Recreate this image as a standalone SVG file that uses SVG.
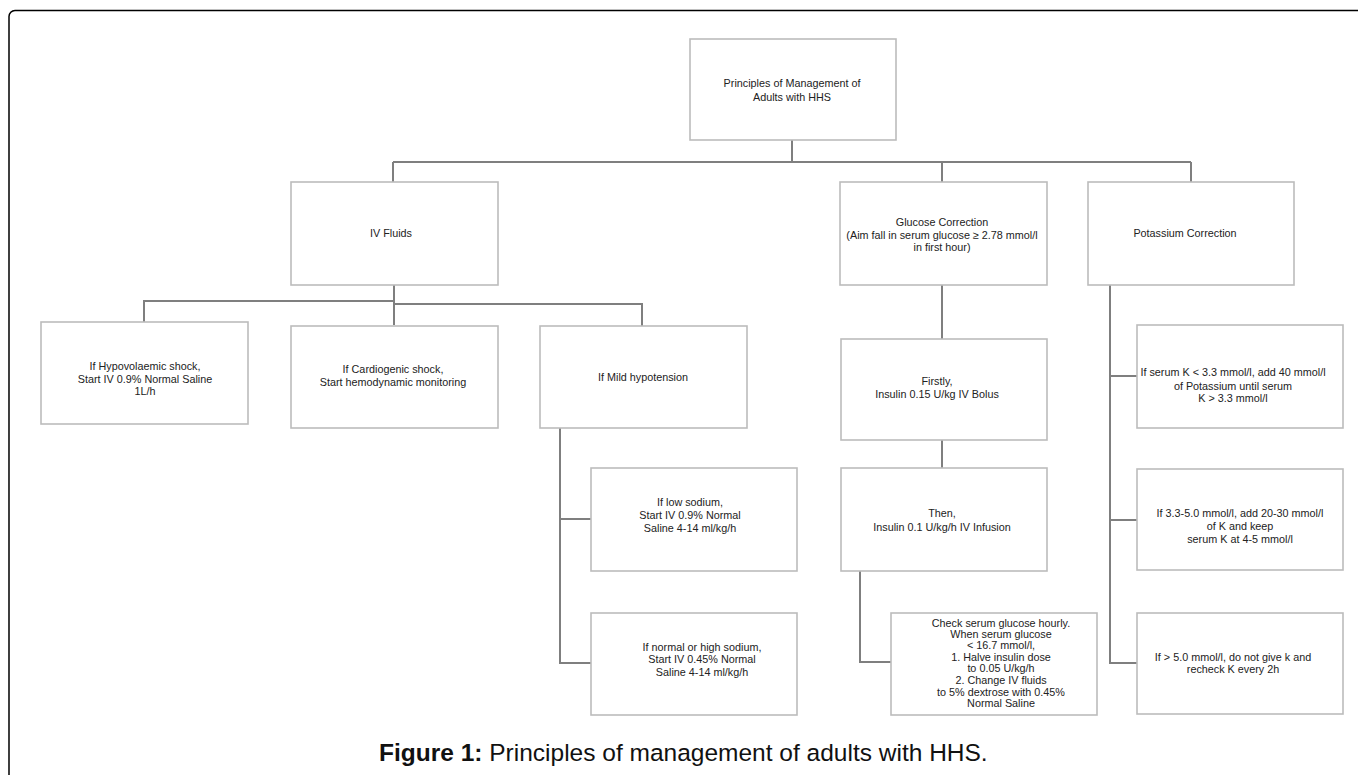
<svg xmlns="http://www.w3.org/2000/svg" width="1358" height="775" viewBox="0 0 1358 775">
<style>
  .box { fill: #ffffff; stroke: #bcbcbc; stroke-width: 1.6; }
  .t { font-family: "Liberation Sans", Arial, sans-serif; font-size: 10.8px; fill: #222222; text-anchor: middle; }
  .conn { fill: none; stroke: #7f7f7f; stroke-width: 2; }
  .cap { font-family: "Liberation Sans", Arial, sans-serif; font-size: 24.5px; fill: #111111; }
</style>
<rect x="0" y="0" width="1358" height="775" fill="#ffffff"/>
<rect x="9" y="10.5" width="1420" height="820" rx="6" ry="6" fill="none" stroke="#000000" stroke-width="1.5"/>

<g id="connectors">
  <path class="conn" d="M792,140 V162 M393,162 H1191 M393,162 V182 M942,162 V182 M1191,162 V182"/>
  <path class="conn" d="M394,285 V325 M394,301 H144 V322 M394,304 H642 V326"/>
  <path class="conn" d="M560,428 V663 H591 M560,519 H591"/>
  <path class="conn" d="M942,285 V339 M942,440 V468 M860,571 V662 H891"/>
  <path class="conn" d="M1110,285 V663 H1137 M1110,376 H1137 M1110,520 H1137"/>
</g>

<g id="root">
  <rect class="box" x="690" y="39" width="206" height="101"/>
  <text class="t" x="792" y="87">Principles of Management of</text>
  <text class="t" x="792" y="101">Adults with HHS</text>
</g>

<g id="iv-fluids">
  <rect class="box" x="291" y="182" width="207" height="103"/>
  <text class="t" x="391" y="237">IV Fluids</text>
</g>

<g id="glucose">
  <rect class="box" x="840" y="182" width="207" height="103"/>
  <text class="t" x="942" y="226">Glucose Correction</text>
  <text class="t" x="942" y="239">(Aim fall in serum glucose ≥ 2.78 mmol/l</text>
  <text class="t" x="942" y="251">in first hour)</text>
</g>

<g id="potassium">
  <rect class="box" x="1088" y="182" width="206" height="103"/>
  <text class="t" x="1185" y="237">Potassium Correction</text>
</g>

<g id="hypovolaemic">
  <rect class="box" x="41" y="322" width="207" height="102"/>
  <text class="t" x="145" y="370">If Hypovolaemic shock,</text>
  <text class="t" x="145" y="383">Start IV 0.9% Normal Saline</text>
  <text class="t" x="145" y="395">1L/h</text>
</g>

<g id="cardiogenic">
  <rect class="box" x="291" y="326" width="207" height="102"/>
  <text class="t" x="393" y="373">If Cardiogenic shock,</text>
  <text class="t" x="393" y="386">Start hemodynamic monitoring</text>
</g>

<g id="mild">
  <rect class="box" x="540" y="326" width="207" height="102"/>
  <text class="t" x="643" y="381">If Mild hypotension</text>
</g>

<g id="low-sodium">
  <rect class="box" x="591" y="468" width="206" height="103"/>
  <text class="t" x="690" y="506">If low sodium,</text>
  <text class="t" x="690" y="519">Start IV 0.9% Normal</text>
  <text class="t" x="690" y="532">Saline 4-14 ml/kg/h</text>
</g>

<g id="normal-sodium">
  <rect class="box" x="591" y="613" width="206" height="102"/>
  <text class="t" x="702" y="651">If normal or high sodium,</text>
  <text class="t" x="702" y="663">Start IV 0.45% Normal</text>
  <text class="t" x="702" y="676">Saline 4-14 ml/kg/h</text>
</g>

<g id="firstly">
  <rect class="box" x="841" y="339" width="206" height="101"/>
  <text class="t" x="937" y="385">Firstly,</text>
  <text class="t" x="937" y="398">Insulin 0.15 U/kg IV Bolus</text>
</g>

<g id="then">
  <rect class="box" x="841" y="468" width="206" height="103"/>
  <text class="t" x="942" y="517">Then,</text>
  <text class="t" x="942" y="531">Insulin 0.1 U/kg/h IV Infusion</text>
</g>

<g id="check">
  <rect class="box" x="891" y="613" width="206" height="102"/>
  <text class="t" x="1001" y="627">Check serum glucose hourly.</text>
  <text class="t" x="1001" y="638">When serum glucose</text>
  <text class="t" x="1001" y="649">&lt; 16.7 mmol/l,</text>
  <text class="t" x="1001" y="661">1. Halve insulin dose</text>
  <text class="t" x="1001" y="672">to 0.05 U/kg/h</text>
  <text class="t" x="1001" y="684">2. Change IV fluids</text>
  <text class="t" x="1001" y="696">to 5% dextrose with 0.45%</text>
  <text class="t" x="1001" y="707">Normal Saline</text>
</g>

<g id="k-low">
  <rect class="box" x="1137" y="325" width="206" height="103"/>
  <text class="t" x="1233" y="376">If serum K &lt; 3.3 mmol/l, add 40 mmol/l</text>
  <text class="t" x="1233" y="390">of Potassium until serum</text>
  <text class="t" x="1233" y="402">K &gt; 3.3 mmol/l</text>
</g>

<g id="k-mid">
  <rect class="box" x="1137" y="469" width="206" height="101"/>
  <text class="t" x="1240" y="517">If 3.3-5.0 mmol/l, add 20-30 mmol/l</text>
  <text class="t" x="1240" y="530">of K and keep</text>
  <text class="t" x="1240" y="543">serum K at 4-5 mmol/l</text>
</g>

<g id="k-high">
  <rect class="box" x="1137" y="613" width="206" height="101"/>
  <text class="t" x="1233" y="661">If &gt; 5.0 mmol/l, do not give k and</text>
  <text class="t" x="1233" y="673">recheck K every 2h</text>
</g>

<g id="caption">
  <text class="cap" x="379" y="761"><tspan font-weight="bold">Figure 1:</tspan> Principles of management of adults with HHS.</text>
</g>
</svg>
